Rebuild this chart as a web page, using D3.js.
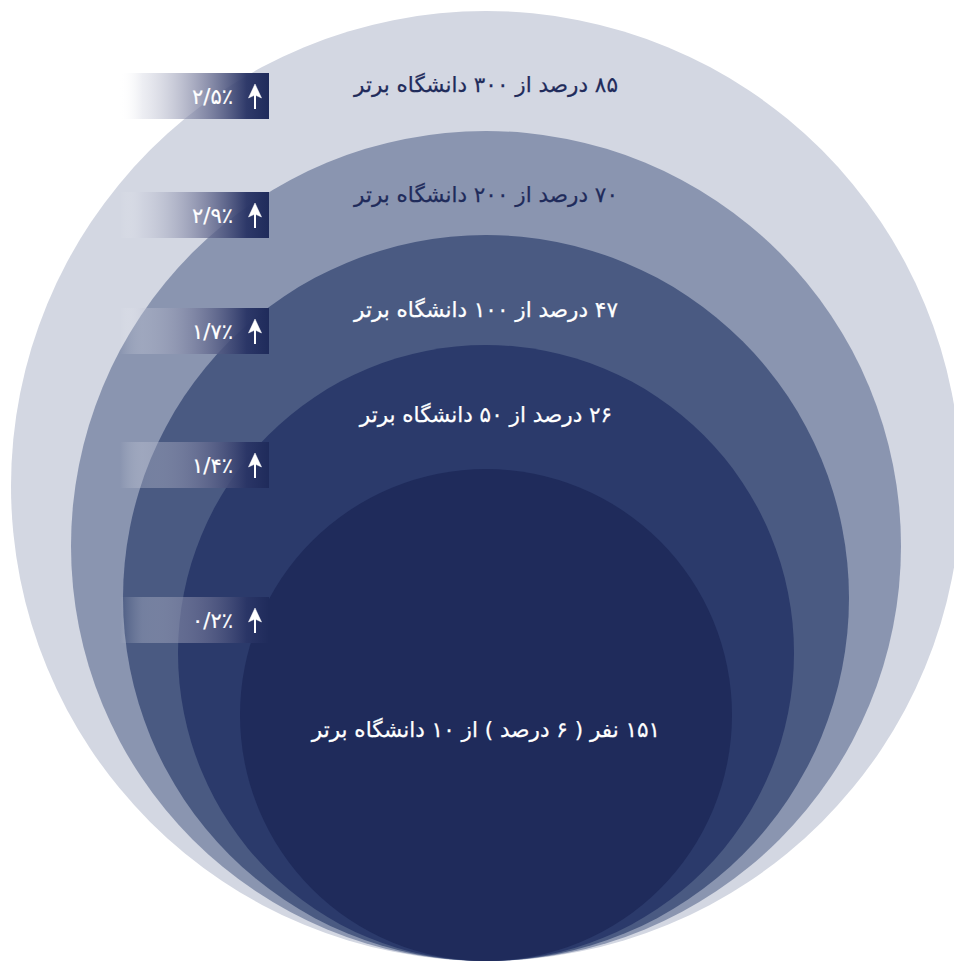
<!DOCTYPE html>
<html>
<head>
<meta charset="utf-8">
<script src="https://cdn.jsdelivr.net/npm/d3@7/dist/d3.min.js"></script>
<style>
  html, body { margin: 0; padding: 0; background: #ffffff; }
  svg { display: block; }
  text { font-family: "DejaVu Sans", "Noto Sans", sans-serif; }
</style>
</head>
<body>
<div id="chart"></div>
<script>
// ---- data ----
const tiers = ["۳۰۰", "۲۰۰", "۱۰۰", "۵۰", "۱۰"];
const labels = [
  "۸۵ درصد از ۳۰۰ دانشگاه برتر",
  "۷۰ درصد از ۲۰۰ دانشگاه برتر",
  "۴۷ درصد از ۱۰۰ دانشگاه برتر",
  "۲۶ درصد از ۵۰ دانشگاه برتر",
  "۱۵۱ نفر ( ۶ درصد ) از ۱۰ دانشگاه برتر"
];
const shares = [85, 70, 47, 26, 6];
const changes = ["۲/۵٪", "۲/۹٪", "۱/۷٪", "۱/۴٪", "۰/۲٪"];

// ---- layout ----
const W = 954, H = 962;
const cx = 486, bottom = 961;
const idx = d3.range(tiers.length);

const rScale = d3.scaleLinear().domain([0, 1, 2, 3, 4]).range([475, 415, 363, 308, 246]);
const color = d3.scaleOrdinal().domain(idx).range(["#d3d7e2", "#8a95b0", "#4a5a82", "#2b3a6b", "#1f2b5b"]);
const textColor = d3.scaleOrdinal().domain(idx).range(["#1f2b5b", "#1f2b5b", "#ffffff", "#ffffff", "#ffffff"]);
const badgeY = d3.scaleLinear().domain([0, 1, 2, 3, 4]).range([96, 215, 331, 465, 620]);
const labelY = d3.scaleLinear().domain([0, 1, 2, 3, 4]).range([92, 202, 317, 422, 737]);

const svg = d3.select("#chart").append("svg")
  .attr("width", W).attr("height", H);

const defs = svg.append("defs");
const grad = defs.append("linearGradient").attr("id", "badgeGrad")
  .attr("x1", "0%").attr("x2", "100%").attr("y1", "0%").attr("y2", "0%");
[[0, "#ffffff", 0], [0.15, "#c8cbda", 0.33], [0.55, "#6e7396", 0.7], [0.85, "#2a3566", 0.97], [1, "#1f2b5b", 1]]
  .forEach(s => grad.append("stop").attr("offset", s[0]).attr("stop-color", s[1]).attr("stop-opacity", s[2]));

// circles
svg.append("g").selectAll("circle").data(idx).join("circle")
  .attr("cx", cx)
  .attr("cy", i => bottom - rScale(i))
  .attr("r", i => rScale(i))
  .attr("fill", i => color(i));

// labels
svg.append("g").selectAll("text").data(idx).join("text")
  .attr("x", cx)
  .attr("y", i => labelY(i))
  .attr("text-anchor", "middle")
  .attr("direction", "rtl")
  .attr("font-size", 21.5)
  .attr("fill", i => textColor(i))
  .attr("stroke", i => textColor(i))
  .attr("stroke-width", 0.25)
  .text(i => labels[i]);

// badges
const badge = svg.append("g").selectAll("g").data(idx).join("g")
  .attr("transform", i => `translate(0,${badgeY(i)})`);
badge.append("rect")
  .attr("x", 120).attr("y", -23).attr("width", 149).attr("height", 46)
  .attr("fill", "url(#badgeGrad)");
badge.append("text")
  .attr("x", 233).attr("y", 8)
  .attr("text-anchor", "end")
  .attr("font-size", 21)
  .attr("fill", "#ffffff")
  .attr("stroke", "#ffffff")
  .attr("stroke-width", 0.2)
  .text(i => changes[i]);
const arrow = badge.append("g").attr("fill", "#ffffff").attr("stroke", "#ffffff");
arrow.append("line")
  .attr("x1", 255).attr("x2", 255).attr("y1", -4).attr("y2", 13)
  .attr("stroke-width", 2);
arrow.append("path")
  .attr("d", "M255,-12 L261.5,2 L255,-1 L248.5,2 Z")
  .attr("stroke-width", 0.5);
</script>
</body>
</html>
